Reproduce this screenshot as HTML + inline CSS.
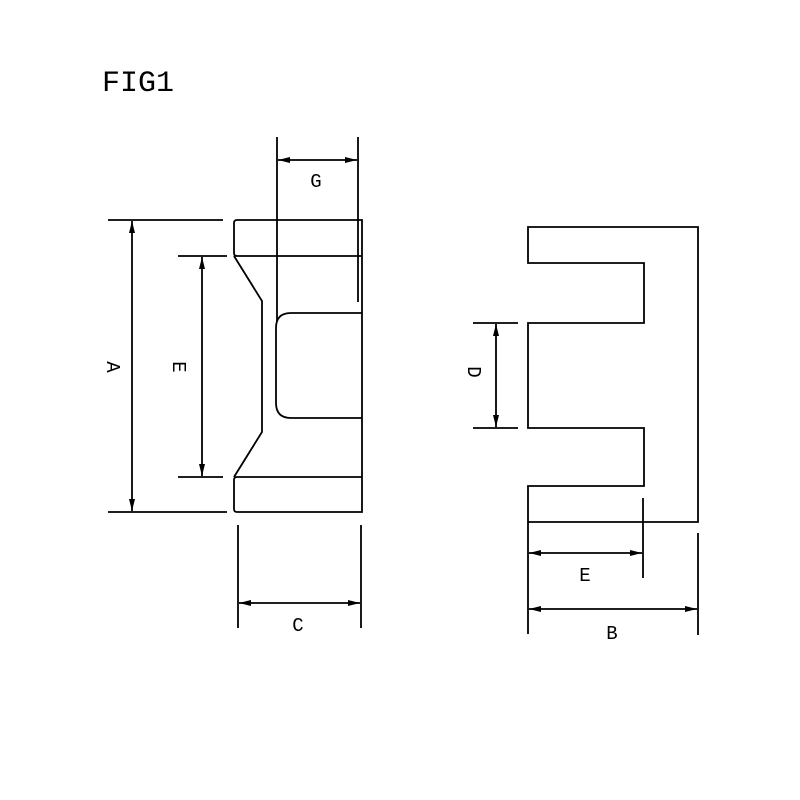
<!DOCTYPE html>
<html><head><style>body{margin:0;background:#fff}svg{display:block}</style></head><body>
<svg width="800" height="800" viewBox="0 0 800 800" xmlns="http://www.w3.org/2000/svg">
<defs>
<marker id="a" viewBox="0 0 12 8" refX="12" refY="4" markerWidth="12" markerHeight="8" orient="auto-start-reverse" markerUnits="userSpaceOnUse"><path d="M0,1 L12,4 L0,7z" fill="#000"/></marker>
</defs>
<text x="102" y="91" font-family="Liberation Mono, monospace" font-size="30" fill="#000">FIG1</text>
<g stroke="#000" stroke-width="1.8" fill="none">
<line x1="277" y1="137" x2="277" y2="322"/>
<line x1="358" y1="137" x2="358" y2="302"/>
<line x1="278" y1="160" x2="357" y2="160" marker-start="url(#a)" marker-end="url(#a)"/>
<line x1="108" y1="220" x2="223" y2="220"/>
<line x1="108" y1="512" x2="227" y2="512"/>
<line x1="132" y1="221" x2="132" y2="511" marker-start="url(#a)" marker-end="url(#a)"/>
<line x1="178" y1="256" x2="227" y2="256"/>
<line x1="178" y1="477" x2="223" y2="477"/>
<line x1="202" y1="257" x2="202" y2="476" marker-start="url(#a)" marker-end="url(#a)"/>
<path d="M237,220 H362 V512 H237 Q234,512 234,509 V480 Q234,477 237,477 H362"/>
<path d="M362,256 H237 Q234,256 234,253 V223 Q234,220 237,220"/>
<path d="M234,256 L262,301 V432 L234,477"/>
<path d="M362,313 H291 Q276,313 276,328 V403 Q276,418 291,418 H362"/>
<line x1="238" y1="525" x2="238" y2="628"/>
<line x1="361" y1="525" x2="361" y2="628"/>
<line x1="239" y1="603" x2="360" y2="603" marker-start="url(#a)" marker-end="url(#a)"/>
<path d="M528,227 H698 V522 H528 V486 H644 V428 H528 V323 H644 V263 H528 Z"/>
<line x1="528" y1="522" x2="528" y2="634"/>
<line x1="643" y1="498" x2="643" y2="578"/>
<line x1="698" y1="533" x2="698" y2="635"/>
<line x1="529" y1="553" x2="642" y2="553" marker-start="url(#a)" marker-end="url(#a)"/>
<line x1="529" y1="609" x2="697" y2="609" marker-start="url(#a)" marker-end="url(#a)"/>
<line x1="473" y1="323" x2="518" y2="323"/>
<line x1="473" y1="428" x2="518" y2="428"/>
<line x1="496" y1="324" x2="496" y2="427" marker-start="url(#a)" marker-end="url(#a)"/>
</g>
<g font-family="Liberation Mono, monospace" font-size="19" fill="#000" text-anchor="middle">
<text x="316" y="187">G</text>
<text x="298" y="631">C</text>
<text x="585" y="581">E</text>
<text x="612" y="639">B</text>
<text transform="translate(112,367) rotate(90)" dominant-baseline="middle">A</text>
<text transform="translate(178,367) rotate(90)" dominant-baseline="middle">E</text>
<text transform="translate(473,372) rotate(90)" dominant-baseline="middle">D</text>
</g>
</svg>
</body></html>
